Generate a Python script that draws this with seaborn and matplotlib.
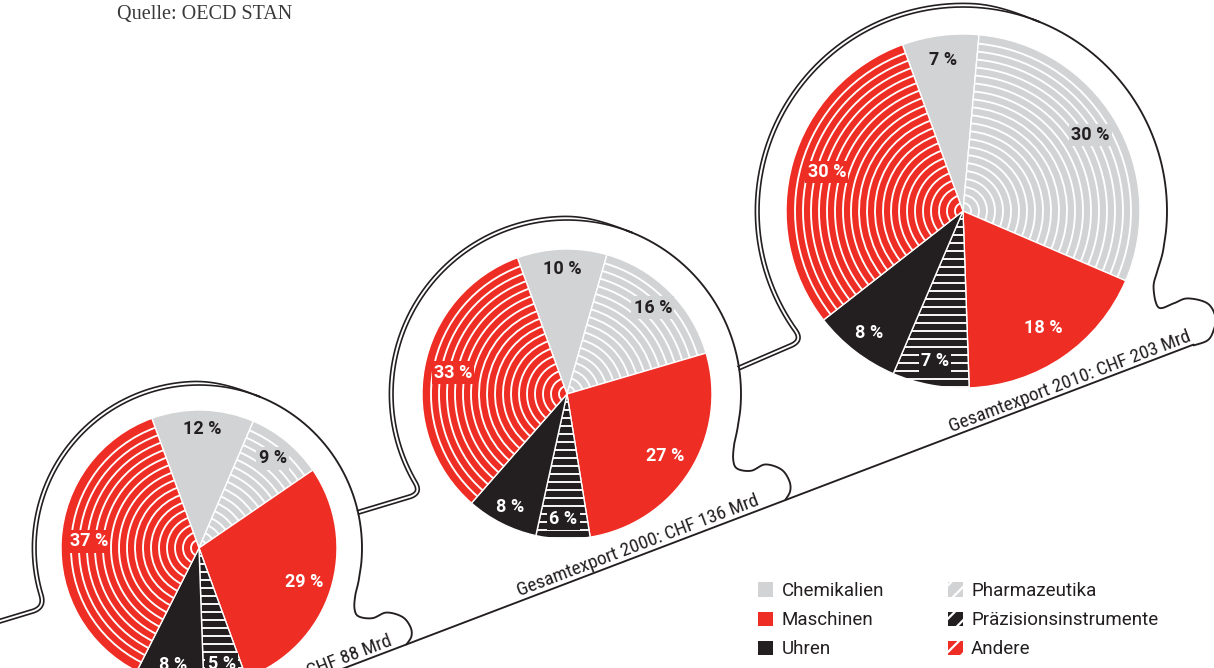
import numpy as np
import matplotlib
matplotlib.use("Agg")
import matplotlib.pyplot as plt
import seaborn as sns
from matplotlib.patches import Arc, Patch
from matplotlib import font_manager as fm

# ---------------- data ----------------
years = ["1990", "2000", "2010"]
totals = [88, 136, 203]
categories = ["Chemikalien", "Pharmazeutika", "Maschinen",
              "Präzisionsinstrumente", "Uhren", "Andere"]
chemikalien = [12, 10, 7]
pharmazeutika = [9, 16, 30]
maschinen = [29, 27, 18]
praezision = [5, 6, 7]
uhren = [8, 8, 8]
andere = [37, 33, 30]
legend_order = ["Chemikalien", "Maschinen", "Uhren",
                "Pharmazeutika", "Präzisionsinstrumente", "Andere"]

# ---------------- style ----------------
sns.set_theme(style="white")
names = {f.name for f in fm.fontManager.ttflist}
cands = ["Roboto Condensed", "Noto Sans Condensed", "Liberation Sans Narrow",
         "Noto Sans SemiCondensed", "DejaVu Sans Condensed", "Roboto"]
COND_NAME = next((c for c in cands if c in names), "DejaVu Sans")
COND = [COND_NAME, "DejaVu Sans"]
REG = ["Roboto", "DejaVu Sans"]
plt.rcParams["font.family"] = COND
plt.rcParams["hatch.linewidth"] = 1.6

RED = "#EE2D24"
GRAY = "#D1D3D4"
BLACK = "#231F20"
pal = sns.color_palette([GRAY, GRAY, RED, BLACK, BLACK, RED])
cat_color = dict(zip(categories, pal))
hatched_rings = {"Pharmazeutika", "Andere"}
hatched_lines = {"Präzisionsinstrumente"}
txt_color = {"Chemikalien": BLACK, "Pharmazeutika": BLACK, "Maschinen": "white",
             "Präzisionsinstrumente": "white", "Uhren": "white", "Andere": "white"}
label_frac = {"Chemikalien": 0.86, "Pharmazeutika": 0.84, "Maschinen": 0.80,
              "Präzisionsinstrumente": 0.86, "Uhren": 0.87, "Andere": 0.80}

W, H = 1214, 668
fig = plt.figure(figsize=(W / 100, H / 100), dpi=100)
ax = fig.add_axes([0, 0, 1, 1])

# layout (image pixel coordinates, y downward)
centers = [(199, 548), (567, 394), (963, 211)]
radii = [138, 145, 177]
ring_R = [163, 174, 204]
label_end_x = [395, 762, 1194]
SP = 8.0  # hatch spacing


def Yd(y):
    return H - y


series = [chemikalien, pharmazeutika, maschinen, praezision, uhren, andere]

# ---------------- outline track ----------------
def bl(x):
    return 645 - 0.381 * (x - 405)


def cpt(i, a):
    cx, cy = centers[i]
    R = ring_R[i]
    r = np.deg2rad(a)
    return np.array([cx + R * np.cos(r), cy - R * np.sin(r)])


def arc_pts(i, a0, a1, n=300):
    return np.array([cpt(i, a) for a in np.linspace(a0, a1, n)])


def catmull(pts, n=14):
    pts = np.asarray(pts, float)
    P = np.vstack([pts[0], pts, pts[-1]])
    out = []
    for k in range(1, len(P) - 2):
        p0, p1, p2, p3 = P[k - 1], P[k], P[k + 1], P[k + 2]
        for t in np.linspace(0, 1, n, endpoint=False):
            out.append(0.5 * (2 * p1 + (-p0 + p2) * t + (2 * p0 - 5 * p1 + 4 * p2 - p3) * t * t
                              + (-p0 + 3 * p1 - 3 * p2 + p3) * t ** 3))
    out.append(P[-2])
    return np.array(out)


def connector(P0, slope, j, a_end=68):
    d = np.array([1.0, slope])
    d /= np.linalg.norm(d)
    C = np.array(centers[j], float)
    R = ring_R[j]
    f = P0 - C
    b = 2 * f.dot(d)
    c = f.dot(f) - R * R
    t = (-b - np.sqrt(b * b - 4 * c)) / 2
    I = P0 + t * d
    aI = np.degrees(np.arctan2(-(I[1] - C[1]), I[0] - C[0])) % 360
    Pa = I - 16 * d
    delta = np.degrees(16 / R)
    Pb = cpt(j, aI - delta)
    tt = np.linspace(0, 1, 30)[:, None]
    bez = (1 - tt) ** 2 * Pa + 2 * (1 - tt) * tt * I + tt ** 2 * Pb
    line = np.array([P0 + (Pa - P0) * s for s in np.linspace(0, 1, 40)])
    arc = arc_pts(j, aI - delta, a_end)
    return np.vstack([line, bez[1:], arc[1:]])


def offset_path(p, gap=3.6, taper=70.0):
    seg = np.hypot(*np.diff(p, axis=0).T)
    s = np.concatenate([[0], np.cumsum(seg)])
    L = s[-1]
    tx = np.gradient(p[:, 0])
    ty = np.gradient(p[:, 1])
    nrm = np.hypot(tx, ty)
    nrm[nrm == 0] = 1
    n = np.column_stack([ty / nrm, -tx / nrm])
    w = gap * (0.5 - 0.5 * np.cos(np.pi * np.clip((L - s) / taper, 0, 1)))
    return p + w[:, None] * n


double_paths = []
double_paths.append(connector(np.array([-5.0, 624.5]), -0.30, 0))
starts = [12, 8]
slopes = [-0.30, -0.43]
for i in range(2):
    double_paths.append(connector(cpt(i, starts[i]), slopes[i], i + 1))

bump_tpl = [(0, 0), (-3, 0.2), (-4, 0.42), (0, 0.55), (14, 0.58), (28, 0.49),
            (44, 0.56), (52, 0.72), (53, 0.87), (48, 1.0)]
single_paths = []
for i in range(2):
    E = cpt(i, -12)
    D = bl(E[0] + 48) - E[1]
    pts = [cpt(i, -6)] + [E + np.array([dx, f * D]) for dx, f in bump_tpl]
    single_paths.append(np.vstack([arc_pts(i, 70, -6), catmull(pts)]))
E3 = cpt(2, -12)
cap = [(0, 0), (-5, 17), (-9, 34), (-4, 54), (11, 50), (25, 45), (45, 50),
       (53, 64), (51, 77), (45, 87), (31, 92)]
pts = [cpt(2, -6)] + [E3 + np.array(p, float) for p in cap]
single_paths.append(np.vstack([arc_pts(2, 70, -6), catmull(pts)]))
xb = np.array([250, E3[0] + 31])
single_paths.append(np.column_stack([xb, bl(xb)]))

LW = 1.2
for p in double_paths:
    q = offset_path(p)
    for pp in (p, q):
        ax.plot(pp[:, 0], Yd(pp[:, 1]), color=BLACK, lw=LW, solid_capstyle="round",
                solid_joinstyle="round", zorder=1)
for p in single_paths:
    ax.plot(p[:, 0], Yd(p[:, 1]), color=BLACK, lw=LW + 0.15, solid_capstyle="round",
            solid_joinstyle="round", zorder=1.2)

# baseline labels
ang = np.degrees(np.arctan(0.381))
dvec = np.array([1, -0.381]) / np.hypot(1, 0.381)
nvec = np.array([dvec[1], -dvec[0]])
for k in range(3):
    xe = label_end_x[k]
    B = np.array([xe, bl(xe)]) + 4.5 * nvec
    ax.text(B[0], Yd(B[1]), f"Gesamtexport {years[k]}: CHF {totals[k]} Mrd",
            rotation=ang, rotation_mode="anchor", ha="right", va="baseline",
            fontsize=13.9, color=BLACK, zorder=1.5)

# ---------------- pies ----------------
for k in range(3):
    vals = [s[k] for s in series]
    cx, cy = centers[k]
    r = radii[k]
    wedges, _ = ax.pie(vals, colors=[cat_color[c] for c in categories],
                       startangle=110, counterclock=False, center=(cx, Yd(cy)),
                       radius=r, wedgeprops=dict(edgecolor="white", linewidth=1.0))
    for w, cat, v in zip(wedges, categories, vals):
        w.set_zorder(3)
        if cat in hatched_rings:
            n = int(r // SP)
            for m in range(1, n + 1):
                rad = m * SP
                if rad > r - 3:
                    break
                a = Arc((cx, Yd(cy)), 2 * rad, 2 * rad, theta1=w.theta1, theta2=w.theta2,
                        color="white", lw=1.35, zorder=3.2)
                ax.add_patch(a)
                a.set_clip_path(w)
        if cat in hatched_lines:
            for m in range(-int(r // SP), int(r // SP) + 1):
                yy = Yd(cy) + m * SP
                ln, = ax.plot([cx - r, cx + r], [yy, yy], color="white", lw=1.35, zorder=3.2)
                ln.set_clip_path(w)
        mid = np.deg2rad((w.theta1 + w.theta2) / 2)
        rr = label_frac[cat] * r
        bbox = None
        if cat in hatched_rings or cat in hatched_lines:
            bbox = dict(boxstyle="square,pad=0.12", fc=cat_color[cat], ec="none")
        ax.text(cx + rr * np.cos(mid), Yd(cy) + rr * np.sin(mid), f"{v} %",
                ha="center", va="center", fontsize=13, fontweight="bold",
                family=REG, color=txt_color[cat], bbox=bbox, zorder=4)

# ---------------- legend ----------------
handles = []
for c in legend_order:
    if c in hatched_rings or c in hatched_lines:
        handles.append(Patch(facecolor=cat_color[c], edgecolor="white", hatch="//",
                             linewidth=0, label=c))
    else:
        handles.append(Patch(facecolor=cat_color[c], edgecolor="none", label=c))
leg = ax.legend(handles=handles, ncol=2, loc="upper left",
                bbox_to_anchor=(758 / W, 1 - 582 / H), frameon=False,
                prop=dict(family=REG, size=13.5), handlelength=0.8, handleheight=0.8,
                handletextpad=0.45, columnspacing=3.4, labelspacing=0.6,
                borderpad=0, borderaxespad=0)
for t in leg.get_texts():
    t.set_color(BLACK)

ax.text(117, Yd(19), "Quelle: OECD STAN", fontsize=14.5,
        family=["Liberation Serif", "DejaVu Serif"], color="#3a3a3a",
        ha="left", va="baseline")

ax.set_xlim(0, W)
ax.set_ylim(0, H)
ax.set_aspect("equal")
ax.axis("off")
fig.savefig("out.png", dpi=100)
